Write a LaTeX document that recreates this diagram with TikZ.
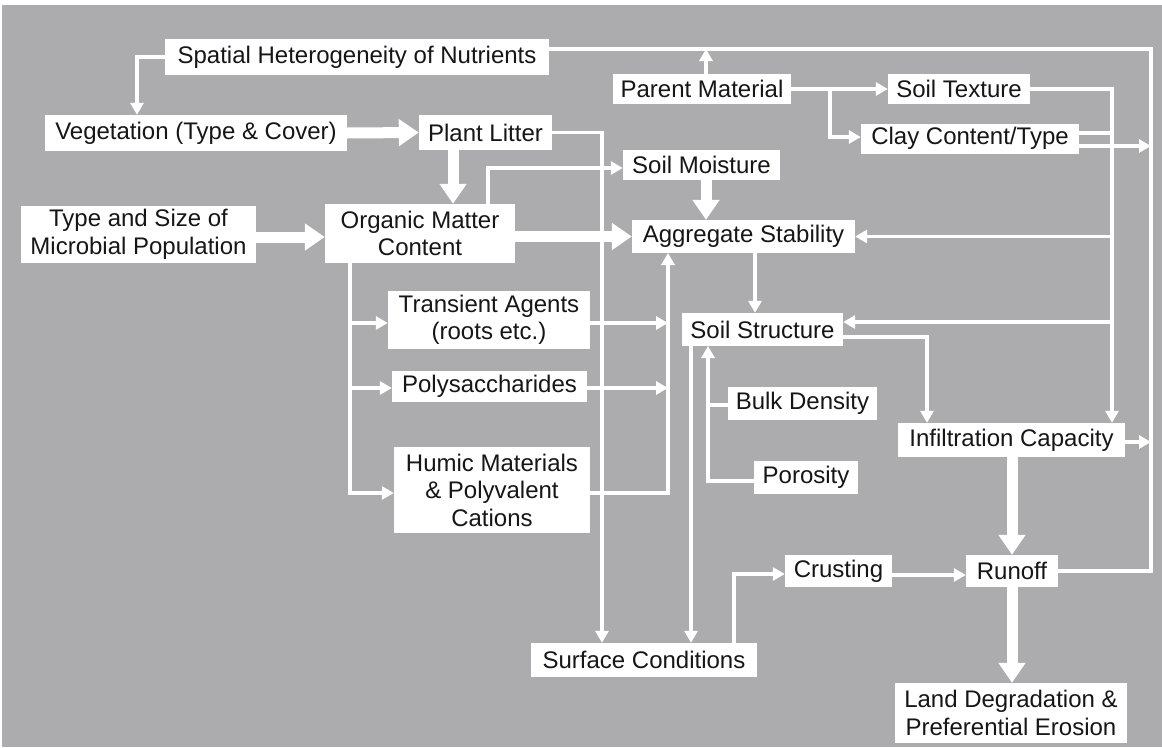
\documentclass[tikz,border=0pt]{standalone}
\usepackage{fontspec}
\setmainfont{Liberation Sans}
\usetikzlibrary{arrows.meta}
\definecolor{bg}{RGB}{172,172,175}
\definecolor{ink}{RGB}{22,22,22}
\newcommand{\lab}{\fontsize{24}{27.5}\selectfont}
\begin{document}
\begin{tikzpicture}[x=1pt,y=-1pt,
  box/.style={fill=white,text=ink,inner sep=0pt,align=center,font=\lab},
  ln/.style={white,line width=3.5pt},
  arr/.style={ln,-{Triangle[length=12pt,width=13pt]}},
  big/.style={white,line width=11pt,-{Triangle[length=20pt,width=26pt]}}]
\useasboundingbox (0,0) rectangle (1162,747);
\fill[white] (0,0) rectangle (1162,747);
\fill[bg] (2,5) rectangle (1162,747);
\node[box,minimum width=384,minimum height=36] (sh) at (357,57) {Spatial Heterogeneity of Nutrients};
\node[box,minimum width=302,minimum height=36] (veg) at (196,133) {Vegetation (Type \& Cover)};
\node[box,minimum width=133,minimum height=35] (pl) at (485.5,132.5) {Plant Litter};
\node[box,minimum width=178,minimum height=30] (pm) at (702,89) {Parent Material};
\node[box,minimum width=142,minimum height=30] (st) at (959,89) {Soil Texture};
\node[box,minimum width=218,minimum height=30] (cc) at (970,138.5) {Clay Content/Type};
\node[box,minimum width=157,minimum height=30] (sm) at (701.5,164.5) {Soil Moisture};
\node[box,minimum width=235,minimum height=57] (mp) at (138.5,234.5) {Type and Size of\\Microbial Population};
\node[box,minimum width=190,minimum height=59] (om) at (420,233.5) {Organic Matter\\Content};
\node[box,minimum width=223,minimum height=33] (as) at (743.5,236.5) {Aggregate Stability};
\node[box,minimum width=202,minimum height=58] (ta) at (489,320) {Transient Agents\\(roots etc.)};
\node[box,minimum width=195,minimum height=31] (ps) at (489.5,386.5) {Polysaccharides};
\node[box,minimum width=196,minimum height=86] (hm) at (492,490) {Humic Materials\\\& Polyvalent\\Cations};
\node[box,minimum width=161,minimum height=33] (ss) at (762.5,329.5) {Soil Structure};
\node[box,minimum width=149,minimum height=33] (bd) at (802.5,403.5) {Bulk Density};
\node[box,minimum width=104,minimum height=33] (po) at (806,477.5) {Porosity};
\node[box,minimum width=227,minimum height=34] (ic) at (1011.5,440) {Infiltration Capacity};
\node[box,minimum width=107,minimum height=32] (cr) at (838.5,571) {Crusting};
\node[box,minimum width=92,minimum height=32] (ro) at (1012,571) {Runoff};
\node[box,minimum width=226,minimum height=34] (sc) at (644,660) {Surface Conditions};
\node[box,minimum width=232,minimum height=60] (ld) at (1011,713) {Land Degradation \&\\Preferential Erosion};
\coordinate (fb) at (1151,49); \coordinate (rbus) at (1112,88);
\coordinate (pmfork) at (830,89); \coordinate (ombus) at (350,263);
\coordinate (abus) at (668,253); \coordinate (ssin) at (708,346);
% feedback and right-hand buses
\draw[arr] (sh.west) -| ([xshift=-59]veg.north);
\draw[ln] (ro.east) -| (fb) -- ([yshift=8]sh.east);
\draw[arr] ([xshift=4]pm.north) -- ([xshift=4]pm.north |- fb);
\draw[arr] (pm.east) -- (st.west);
\draw[arr] (pmfork) |- ([yshift=1.5]cc.west);
\draw[arr] (st.east) -| ([xshift=100.5]ic.north);
\draw[ln] ([yshift=5.5]cc.east) -- ([yshift=5.5]cc.east -| rbus);
\draw[arr] ([yshift=-7.5]cc.east) -- ([yshift=-7.5]cc.east -| fb);
\draw[arr] (as.east -| rbus) -- (as.east);
\draw[arr] ([yshift=7.5]ss.east -| rbus) -- ([yshift=7.5]ss.east);
\draw[arr] ([yshift=-7.5]ss.east) -| ([xshift=-84.5]ic.north);
\draw[arr] ([yshift=-2]ic.east) -- ([yshift=-2]ic.east -| fb);
% main flows
\draw[big] (veg.east) -- (pl.west);
\draw[big] ([xshift=-32.5]pl.south) -- ([xshift=-32.5]pl.south |- om.north);
\draw[big] ([yshift=-2.5]mp.east) -- ([yshift=-2.5]mp.east -| om.west);
\draw[big] ([yshift=-3]om.east) -- ([yshift=-3]om.east -| as.west);
\draw[big] ([xshift=4.5]sm.south) -- ([xshift=4.5]sm.south |- as.north);
\draw[big] (ro.north |- ic.south) -- (ro.north);
\draw[big] (ro.south) -- (ro.south |- ld.north);
\draw[arr] (pl.east) -| ([xshift=-42]sc.north);
\draw[arr] ([xshift=68]om.north) |- ([yshift=-3.5]sm.west);
\draw[arr] (ombus) |- ([yshift=-3]hm.west);
\draw[arr] ([yshift=-3]ta.west -| ombus) -- ([yshift=-3]ta.west);
\draw[arr] ([yshift=-1.5]ps.west -| ombus) -- ([yshift=-1.5]ps.west);
\draw[arr] ([yshift=-3]hm.east) -| (abus);
\draw[arr] ([yshift=-3]ta.east) -- ([yshift=-3]ta.east -| abus);
\draw[arr] ([yshift=-1.5]ps.east) -- ([yshift=-1.5]ps.east -| abus);
\draw[arr] ([xshift=11.5]as.south) -- ([xshift=11.5]as.south |- ss.north);
\draw[arr] ([xshift=-71.5]ss.south) -- ([xshift=-71.5]ss.south |- sc.north);
\draw[arr] ([yshift=-3.5]po.west) -| (ssin);
\draw[ln] ([yshift=-1.5]bd.west) -- ([yshift=-1.5]bd.west -| ssin);
\draw[arr] ([xshift=90]sc.north) |- ([yshift=-3]cr.west);
\draw[arr] ([yshift=-4]cr.east) -- ([yshift=-4]ro.west);
\end{tikzpicture}
\end{document}
